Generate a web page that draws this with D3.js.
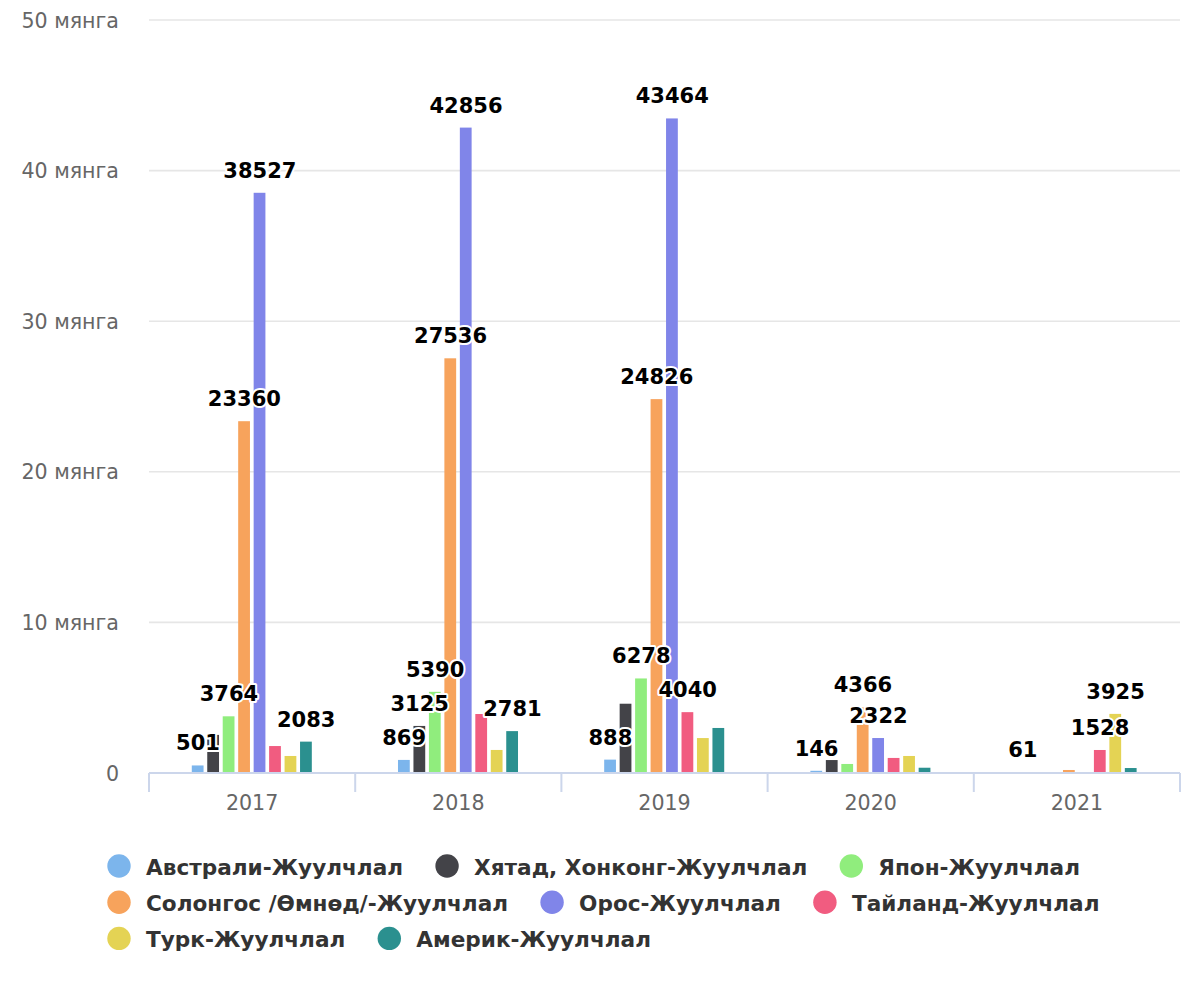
<!DOCTYPE html>
<html>
<head>
<meta charset="utf-8">
<script src="https://cdn.jsdelivr.net/npm/d3@7"></script>
<style>
  html, body { margin: 0; padding: 0; background: #ffffff; }
  svg { display: block; font-family: "DejaVu Sans", Verdana, sans-serif; }
</style>
</head>
<body>
<svg id="chart" width="1200" height="1000"></svg>
<script>
// ---- data ----
const years = ["2017", "2018", "2019", "2020", "2021"];
const seriesNames = [
  "Австрали-Жуулчлал",
  "Хятад, Хонконг-Жуулчлал",
  "Япон-Жуулчлал",
  "Солонгос /Өмнөд/-Жуулчлал",
  "Орос-Жуулчлал",
  "Тайланд-Жуулчлал",
  "Турк-Жуулчлал",
  "Америк-Жуулчлал"
];
const seriesColors = ["#7cb5ec", "#434348", "#90ed7d", "#f7a35c", "#8085e9", "#f15c80", "#e4d354", "#2b908f"];
const australia = [501, 869, 888, 146, 61];
const china     = [2530, 3125, 4600, 860, null];
const japan     = [3764, 5390, 6278, 600, null];
const korea     = [23360, 27536, 24826, 4366, 200];
const russia    = [38527, 42856, 43464, 2322, null];
const thailand  = [1790, 3917, 4040, 1000, 1528];
const turkey    = [1130, 1530, 2320, 1130, 3925];
const america   = [2083, 2781, 2990, 350, 330];
const seriesValues = [australia, china, japan, korea, russia, thailand, turkey, america];
const yTickValues = [0, 10000, 20000, 30000, 40000, 50000];
const yTickLabel = v => v === 0 ? "0" : (v / 1000) + " мянга";

// ---- layout ----
const svg = d3.select("#chart");
svg.append("rect").attr("width", 1200).attr("height", 1000).attr("fill", "#ffffff");

const plotLeft = 149, plotRight = 1180, plotTop = 20, plotBottom = 773;
const x0 = d3.scaleBand().domain(years).range([plotLeft, plotRight]).padding(0);
const bw = x0.bandwidth();
const x1 = d3.scaleBand().domain(seriesNames).range([0.2 * bw, 0.8 * bw]).paddingInner(0.2).paddingOuter(0.1);
const y = d3.scaleLinear().domain([0, 50000]).range([plotBottom, plotTop]);

// gridlines
svg.append("g").selectAll("line").data(yTickValues).join("line")
  .attr("x1", plotLeft).attr("x2", plotRight)
  .attr("y1", d => y(d)).attr("y2", d => y(d))
  .attr("stroke", "#e6e6e6").attr("stroke-width", 1.6);

// y labels
svg.append("g").selectAll("text").data(yTickValues).join("text")
  .attr("x", 119).attr("y", d => y(d) + 7.5)
  .attr("text-anchor", "end")
  .attr("font-size", 20.6).attr("fill", "#666666")
  .text(yTickLabel);

// bars
const barData = [];
seriesValues.forEach((vals, si) => {
  vals.forEach((v, ci) => {
    if (v === null || v === undefined) return;
    barData.push({ si, ci, v, name: seriesNames[si], year: years[ci] });
  });
});
svg.append("g").selectAll("rect").data(barData).join("rect")
  .attr("x", d => x0(d.year) + x1(d.name))
  .attr("y", d => y(d.v))
  .attr("width", x1.bandwidth() - 0.6)
  .attr("height", d => plotBottom - y(d.v))
  .attr("fill", d => seriesColors[d.si]);

// x axis line and ticks
const xAxisG = svg.append("g");
xAxisG.append("line")
  .attr("x1", plotLeft).attr("x2", plotRight)
  .attr("y1", plotBottom).attr("y2", plotBottom)
  .attr("stroke", "#ccd6eb").attr("stroke-width", 2);
const tickXs = years.map(yr => x0(yr)).concat([x0(years[years.length - 1]) + bw]);
xAxisG.selectAll("line.tick").data(tickXs).join("line").attr("class", "tick")
  .attr("x1", d => d).attr("x2", d => d)
  .attr("y1", plotBottom).attr("y2", plotBottom + 19)
  .attr("stroke", "#ccd6eb").attr("stroke-width", 2);
xAxisG.selectAll("text").data(years).join("text")
  .attr("x", d => x0(d) + bw / 2).attr("y", 810)
  .attr("text-anchor", "middle")
  .attr("font-size", 20.6).attr("fill", "#666666")
  .text(d => d);

// data labels
const labelG = svg.append("g");
const labels = labelG.selectAll("text").data(barData).join("text")
  .attr("x", d => x0(d.year) + x1(d.name) + x1.bandwidth() / 2)
  .attr("y", d => y(d.v) - 15)
  .attr("text-anchor", "middle")
  .attr("font-size", 21).attr("font-weight", "bold")
  .attr("fill", "#000000")
  .attr("stroke", "#ffffff").attr("stroke-width", 4)
  .attr("stroke-linejoin", "round")
  .attr("paint-order", "stroke")
  .text(d => d.v);

// hide overlapping labels (taller columns win)
const boxes = [];
labels.each(function(d) {
  const w = this.getComputedTextLength() + 10;
  const cx = x0(d.year) + x1(d.name) + x1.bandwidth() / 2;
  const base = y(d.v) - 15;
  boxes.push({ node: this, rank: plotBottom - y(d.v), x: cx - w / 2, w, y: base - 21, h: 30.25, visible: true });
});
const order = boxes.slice().sort((a, b) => b.rank - a.rank);
for (let i = 0; i < order.length; i++) {
  const a = order[i];
  for (let j = i + 1; j < order.length; j++) {
    const b = order[j];
    if (!a.visible || !b.visible) continue;
    const overlap = a.x < b.x + b.w && b.x < a.x + a.w && a.y < b.y + b.h && b.y < a.y + a.h;
    if (overlap) {
      (a.rank < b.rank ? a : b).visible = false;
    }
  }
}
boxes.forEach(b => { if (!b.visible) d3.select(b.node).remove(); });

// legend
const legendG = svg.append("g");
const symR = 11.7, textOffset = 27, itemGap = 44, maxRight = 1150, firstCx = 119;
let cx = firstCx, rowY = 866;
seriesNames.forEach((name, i) => {
  const item = legendG.append("g");
  const t = item.append("text")
    .attr("font-size", 21.6).attr("font-weight", "bold").attr("fill", "#333333")
    .text(name);
  const tw = t.node().getComputedTextLength();
  if (cx + textOffset + tw > maxRight) {
    cx = firstCx;
    rowY += 36.2;
  }
  item.append("circle")
    .attr("cx", cx).attr("cy", rowY).attr("r", symR)
    .attr("fill", seriesColors[i]);
  t.attr("x", cx + textOffset).attr("y", rowY + 8.5);
  cx = cx + textOffset + tw + itemGap;
});
</script>
</body>
</html>
